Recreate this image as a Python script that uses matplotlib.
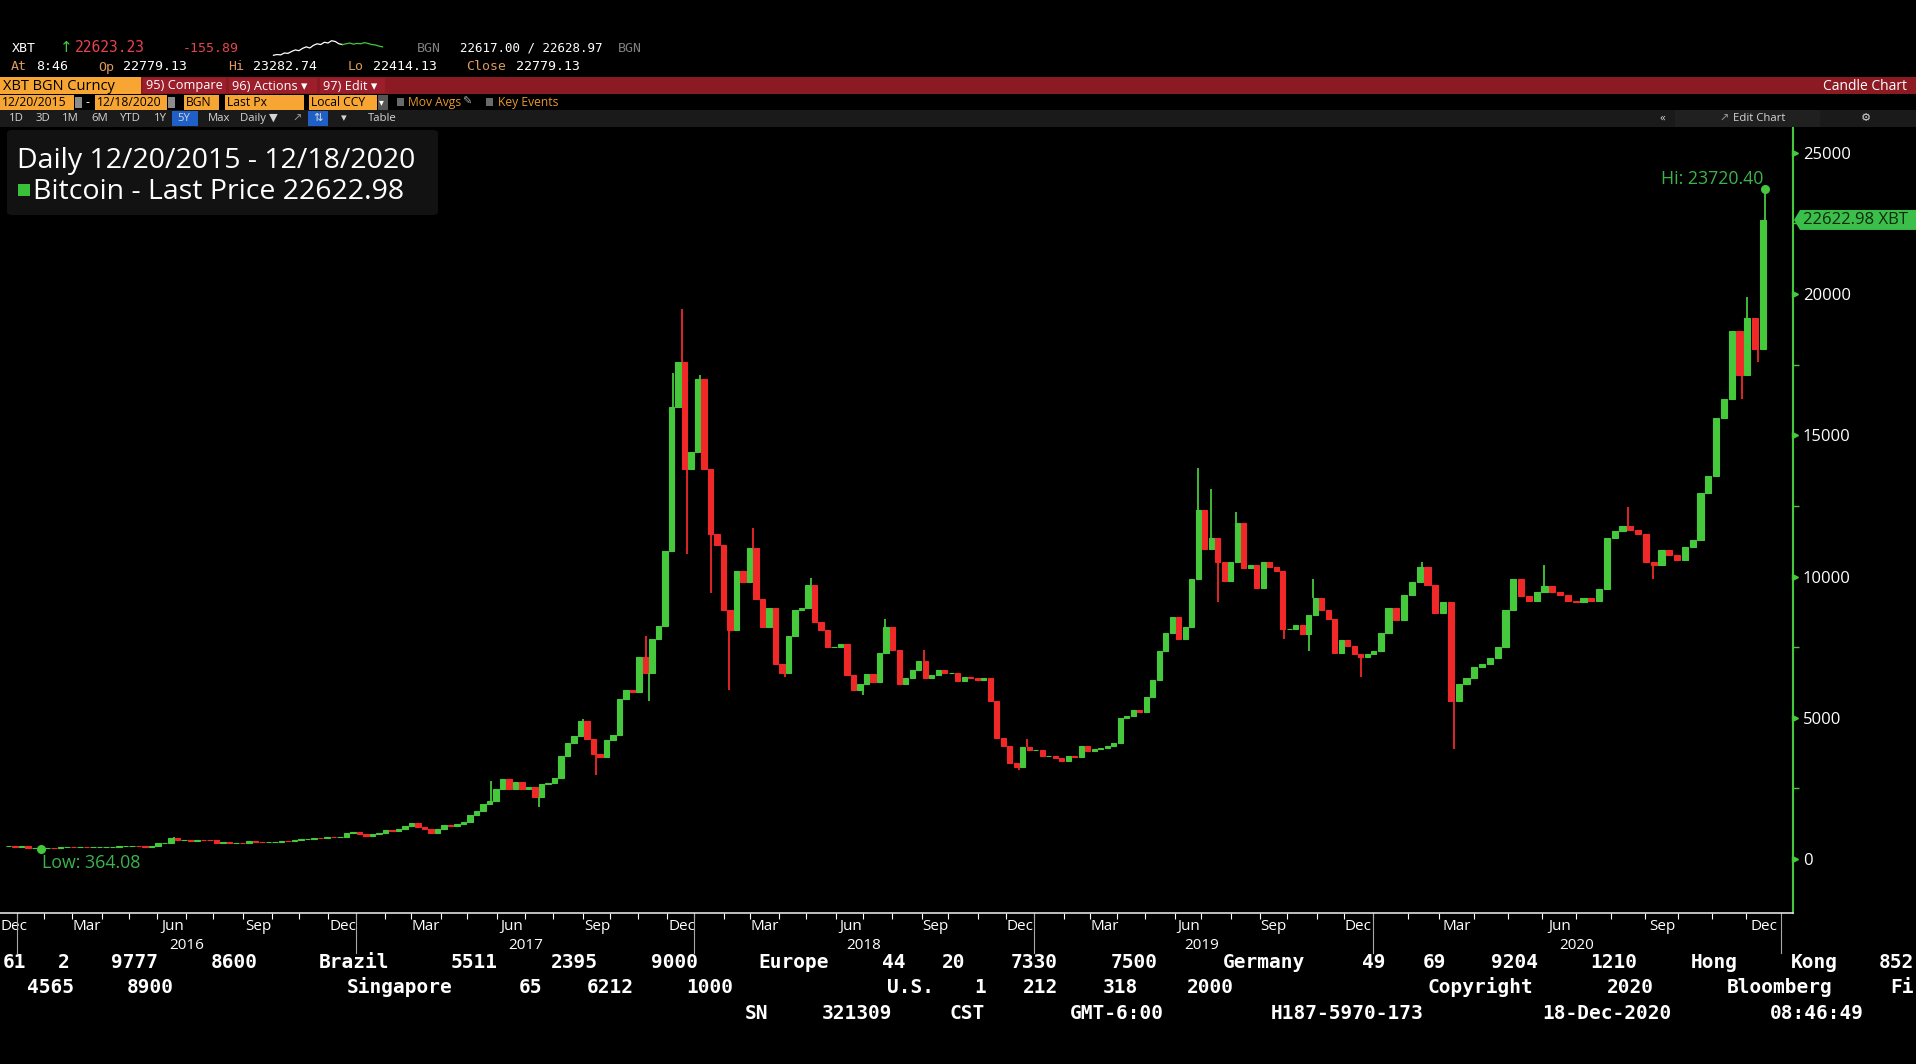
import re
import numpy as np
import pandas as pd
import matplotlib
matplotlib.use("Agg")
import matplotlib.pyplot as plt
from matplotlib.patches import Rectangle, FancyBboxPatch, Polygon
from matplotlib.transforms import IdentityTransform

# ---------------- data: XBT BGN Curncy, weekly closes (week ending Friday) ----------------
week_first = "2015-12-25"
week_last = "2020-12-18"
first_open = 445.0

close_2015 = [455]
close_2016 = [432, 452, 375, 383, 379,
              386, 382, 421, 431,
              410, 417, 408, 416,
              417, 421, 429, 449, 455,
              461, 455, 442, 473,
              569, 577, 757, 665,
              676, 640, 666, 665, 655,
              575, 587, 575, 577,
              575, 623, 607, 596, 608,
              612, 638, 631, 689,
              704, 715, 750, 741,
              771, 770, 784, 917, 963]
close_2017 = [896, 822, 892, 918,
              1015, 998, 1054, 1175,
              1283, 1115, 1070, 934, 1078,
              1190, 1180, 1240, 1327,
              1550, 1700, 1960, 2050,
              2480, 2820, 2460, 2710, 2480,
              2560, 2200, 2670, 2700,
              2850, 3650, 4100, 4350,
              4900, 4250, 3700, 3620, 4200,
              4400, 5650, 5990, 5900,
              7150, 6600, 7800, 8250,
              10900, 16000, 17600, 13800, 14400]
close_2018 = [17000, 13800, 11500, 11100,
              8800, 8100, 10200, 9800,
              11000, 9200, 8200, 8900, 6900,
              6600, 7900, 8800, 8900,
              9700, 8400, 8100, 7500,
              7500, 7600, 6500, 6000, 6200,
              6550, 6250, 7300, 8200,
              7400, 6200, 6400, 6700, 7000,
              6400, 6500, 6700, 6600,
              6600, 6300, 6450, 6400,
              6350, 6400, 5600, 4300, 4000,
              3400, 3250, 3950, 3850]
close_2019 = [3850, 3650, 3650, 3570,
              3480, 3660, 3600, 3990,
              3820, 3880, 3930, 4000, 4100,
              5000, 5050, 5280, 5200,
              5750, 6350, 7350, 7990, 8550,
              7800, 8200, 9900, 12350,
              10980, 11350, 10500, 9850,
              10500, 11900, 10300, 10400, 9600,
              10500, 10350, 10200, 8150,
              8150, 8300, 7950, 8650,
              9250, 8800, 8500, 7300, 7750,
              7550, 7250, 7150, 7250]
close_2020 = [7350, 8000, 8900, 8450, 9350,
              9800, 10350, 9700, 8700,
              9100, 5600, 6200, 6400,
              6800, 6900, 7100, 7500,
              8800, 9900, 9300, 9150, 9450,
              9650, 9450, 9350, 9150,
              9100, 9250, 9150, 9550, 11350,
              11600, 11800, 11650, 11500,
              10500, 10400, 10950, 10750,
              10600, 11050, 11300, 12950, 13550,
              15600, 16300, 18700, 17150,
              19150, 18050, 22623]

# intraweek extremes that stick out of the weekly bodies
wick_dates = ["2016-06-17", "2017-05-25", "2017-07-17", "2017-09-01", "2017-09-15",
              "2017-11-08", "2017-11-13", "2017-12-07", "2017-12-18", "2017-12-22",
              "2018-01-05", "2018-01-17", "2018-02-06", "2018-03-05", "2018-04-06",
              "2018-05-04", "2018-06-29", "2018-07-24", "2018-09-04", "2018-12-14",
              "2018-12-24", "2019-06-26", "2019-07-10", "2019-07-17", "2019-08-06",
              "2019-09-26", "2019-10-23", "2019-10-28", "2019-12-18", "2020-02-13",
              "2020-03-13", "2020-06-02", "2020-08-17", "2020-09-08", "2020-11-26",
              "2020-12-01", "2020-12-11"]
wick_prices = [775, 2760, 1850, 4950, 2980,
               7880, 5600, 17200, 19480, 10800,
               17150, 9400, 6000, 11700, 6450,
               9950, 5800, 8480, 7400, 3150,
               4250, 13850, 13100, 9100, 12300,
               7800, 7350, 9900, 6450, 10500,
               3900, 10400, 12450, 9900, 16300,
               19900, 17600]

low_date, low_price = "2016-01-27", 364.08
hi_date, hi_price = "2020-12-17", 23720.40
last_price = 22622.98

y_ticks = [0, 5000, 10000, 15000, 20000, 25000]
y_minor = [2500, 7500, 12500, 17500, 22500]
years = [2016, 2017, 2018, 2019, 2020]

# intraday sparkline in the header
spark_white = [22420, 22440, 22430, 22480, 22470, 22520, 22560, 22540, 22600, 22640,
               22610, 22680, 22720, 22700, 22760, 22740, 22800, 22780, 22720, 22700]
spark_green = [22700, 22720, 22740, 22710, 22730, 22720, 22750, 22730, 22700, 22690,
               22660, 22640]

# ---------------- style ----------------
GREEN = "#45c83c"
RED = "#f02828"
TXT_GREEN = "#3db44a"
ORANGE = "#f7a533"
LBL_ORANGE = "#dc9a5c"
MONO = "DejaVu Sans Mono"
plt.rcParams["font.family"] = ["Open Sans", "DejaVu Sans"]

W, H = 1916, 1064
fig = plt.figure(figsize=(W / 100, H / 100), dpi=100, facecolor="black")


def fx(px):
    return px / W


def fy(py):
    return 1 - py / H


def rect(x0, y0, x1, y1, color):
    fig.add_artist(Rectangle((fx(x0), fy(y1)), (x1 - x0) / W, (y1 - y0) / H,
                             transform=fig.transFigure, facecolor=color, edgecolor="none"))


def label(px, py, s, color="white", size=9, **kw):
    kw.setdefault("va", "center")
    fig.text(fx(px), fy(py), s, color=color, fontsize=size, **kw)


# Bloomberg bar calendar: weekdays only until 2020, then six bars per week
START = np.datetime64("2015-12-21")
SWITCH = np.datetime64("2020-01-01")


def bar_pos(dates):
    d = np.asarray(dates, dtype="datetime64[D]")
    before = np.busday_count(START, np.minimum(d, SWITCH))
    after = np.busday_count(SWITCH, np.maximum(d, SWITCH), weekmask="1111101")
    return before + after


# ---------------- header ----------------
label(12, 48, "XBT", family=MONO, size=9.5)
label(60, 48, "\u2191", color=GREEN, size=11, family="DejaVu Sans")
label(75, 48, "22623.23", color="#e8434f", size=10.5, family=MONO)
label(183, 48, "-155.89", color="#e8434f", size=9.5, family=MONO)
label(417, 48, "BGN", color="#7f7f7f", size=9.5, family=MONO)
label(460, 48, "22617.00 / 22628.97", size=9, family=MONO)
label(618, 48, "BGN", color="#7f7f7f", size=9.5, family=MONO)

axs = fig.add_axes([fx(268), fy(56), (388 - 268) / W, 16 / H])
axs.axis("off")
nw = len(spark_white)
axs.plot(np.arange(nw), spark_white, color="white", lw=0.9)
axs.plot(np.arange(nw - 1, nw - 1 + len(spark_green)), spark_green, color=GREEN, lw=0.9)

for px, s, c in [(11, "At", LBL_ORANGE), (36, "8:46", "white"), (98, "Op", LBL_ORANGE),
                 (123, "22779.13", "white"), (228, "Hi", LBL_ORANGE), (253, "23282.74", "white"),
                 (348, "Lo", LBL_ORANGE), (373, "22414.13", "white"), (466, "Close", LBL_ORANGE),
                 (516, "22779.13", "white")]:
    label(px, 67, s, color=c, size=9.5, family=MONO)

# red menu bar
rect(0, 77, W, 94, "#8b1a23")
rect(0, 77, 141, 94, ORANGE)
label(3, 86, "XBT BGN Curncy", color="black", size=10.5)
for x0, x1, s in [(143, 226, "95) Compare"), (229, 317, "96) Actions \u25be"), (320, 385, "97) Edit \u25be")]:
    rect(x0, 78, x1, 93, "#9c1e2a")
    label(x0 + 3, 86, s, size=9.2)
label(1907, 86, "Candle Chart", size=10, ha="right")

# settings row
for x0, x1, s in [(0, 74, "12/20/2015"), (95, 167, "12/18/2020"), (184, 219, "BGN"),
                  (225, 304, "Last Px"), (309, 377, "Local CCY")]:
    rect(x0, 95, x1, 110, ORANGE)
    label(x0 + 2, 102.5, s, color="black", size=8.7)
rect(75, 97, 82, 108, "#8c8c8c")
rect(168, 97, 175, 108, "#8c8c8c")
label(86, 102.5, "-", size=9)
rect(378, 95, 388, 110, "#555555")
label(379, 102.5, "\u25be", size=7)
rect(397, 98, 404, 106, "#6a6a6a")
label(408, 102.5, "Mov Avgs", color="#e8962e", size=8.7)
label(462, 102.5, "\u270e", color="#aaaaaa", size=8)
rect(486, 98, 493, 106, "#6a6a6a")
label(498, 102.5, "Key Events", color="#e8962e", size=8.7)

# range toolbar
rect(0, 110, W, 127, "#1a1a1a")
rect(1675, 110, 1820, 127, "#202020")
rect(172, 111, 198, 126, "#1f5fc8")
rect(308, 111, 328, 126, "#1f5fc8")
for px, s in [(9, "1D"), (36, "3D"), (62, "1M"), (91, "6M"), (120, "YTD"), (154, "1Y"),
              (177, "5Y"), (208, "Max"), (240, "Daily \u25bc"), (313, "\u21c5"), (341, "\u25be"),
              (368, "Table"), (1660, "\u00ab"), (1733, "Edit Chart"), (1861, "\u2699")]:
    label(px, 118.5, s, color="#d4d4d4", size=8.2)
label(292, 118.5, "\u2197", color="#9a9a9a", size=8, family="DejaVu Sans")
label(1719, 118.5, "\u2197", color="#9a9a9a", size=8, family="DejaVu Sans")

# ---------------- candle chart ----------------
ax = fig.add_axes([0, fy(913), fx(1793), (913 - 127) / H])
ax.set_facecolor("black")

dates = pd.date_range(week_first, week_last, freq="W-FRI").values.astype("datetime64[D]")
closes = np.array(close_2015 + close_2016 + close_2017 + close_2018 + close_2019 + close_2020,
                  dtype=float)
opens = np.r_[first_open, closes[:-1]]
fri_b = bar_pos(dates)
prev_b = bar_pos(dates - np.timedelta64(7, "D"))
centers = (prev_b + 1 + fri_b) / 2
widths = (fri_b - prev_b) * 0.8
colors = np.where(closes >= opens, GREEN, RED)

ax.bar(centers, closes - opens, bottom=opens, width=widths, color=colors,
       edgecolor=colors, linewidth=0.8)

wd = np.array(wick_dates + [low_date, hi_date], dtype="datetime64[D]")
wp = np.array(wick_prices + [low_price, hi_price], dtype=float)
wi = np.searchsorted(dates, wd)
body_hi = np.maximum(opens[wi], closes[wi])
body_lo = np.minimum(opens[wi], closes[wi])
base = np.where(wp > body_hi, body_hi, body_lo)
ax.vlines(bar_pos(wd), np.minimum(base, wp), np.maximum(base, wp), colors=colors[wi], lw=1.3)

# high / low markers
hx, lx = bar_pos(hi_date), bar_pos(low_date)
ax.plot([hx], [hi_price], "o", color=GREEN, ms=5.5)
ax.plot([lx], [low_price], "o", color=GREEN, ms=5.5)
ax.annotate(f"Hi: {hi_price:.2f}", (hx, hi_price), xytext=(-2, 5), textcoords="offset pixels",
            ha="right", va="baseline", color=TXT_GREEN, fontsize=12.8)
ax.annotate(f"Low: {low_price:.2f}", (lx, low_price), xytext=(1, -19), textcoords="offset pixels",
            ha="left", va="baseline", color=TXT_GREEN, fontsize=12.8)

# y axis on the right
ax.yaxis.tick_right()
ax.set_yticks(y_ticks)
ax.set_yticklabels([str(v) for v in y_ticks])
ax.set_yticks(y_minor, minor=True)
ax.tick_params(axis="y", which="major", length=0, pad=7, labelcolor="white", labelsize=12)
ax.tick_params(axis="y", which="minor", length=4, width=1, color=GREEN)

# x axis: quarter month labels, month ticks, year rows
months = pd.date_range("2015-12-01", "2020-12-01", freq="MS")
qm = months[months.month.isin([3, 6, 9, 12])]
q_pos = bar_pos((qm + pd.Timedelta(days=15)).values.astype("datetime64[D]")).astype(float)
q_pos[0] = -4.0
ax.set_xticks(q_pos)
ax.set_xticklabels([m.strftime("%b") for m in qm])
ax.get_xticklabels()[0].set_ha("left")
ax.set_xticks(bar_pos(months[1:].values.astype("datetime64[D]")) - 0.5, minor=True)
ax.tick_params(axis="x", which="major", length=0, pad=4, labelcolor="white", labelsize=11)
ax.tick_params(axis="x", which="minor", length=4, width=0.8, color="white")

# limits last, so tick setting cannot widen them
ax.set_xlim(-4.6, 1374.6)
ax.set_ylim(-1912, 25913)

ax.plot(np.full(len(y_ticks), 1.0012), y_ticks, ls="none", marker=">", ms=4.5, color=GREEN,
        transform=ax.get_yaxis_transform(), clip_on=False)

xt = ax.get_xaxis_transform()
for y in years + [2021]:
    sx = bar_pos(f"{y}-01-01") - 0.5
    ax.plot([sx, sx], [0, -0.051], color="#a8a8a8", lw=0.8, transform=xt, clip_on=False)
for y in years:
    ax.text(bar_pos(f"{y}-07-01"), -0.041, str(y), transform=xt, ha="center", va="center",
            color="white", fontsize=11)
ax.set_xlim(-4.6, 1374.6)

for side in ("left", "top"):
    ax.spines[side].set_visible(False)
ax.spines["bottom"].set_color("#e0e0e0")
ax.spines["bottom"].set_linewidth(1.2)
ax.spines["right"].set_color(GREEN)
ax.spines["right"].set_linewidth(1.5)

# last price tag
ty = ax.transData.transform((0, last_price))[1]
fig.add_artist(Polygon([(1794, ty), (1800, ty + 10), (W, ty + 10), (W, ty - 10), (1800, ty - 10)],
                       closed=True, facecolor="#3cbf4a", edgecolor="none", transform=IdentityTransform()))
fig.text(1803, ty, f"{last_price:.2f} XBT", transform=IdentityTransform(), va="center",
         color="#0b2a0b", fontsize=12)

# legend box
fig.add_artist(FancyBboxPatch((fx(7), fy(215)), (438 - 7) / W, (215 - 130) / H,
                              boxstyle="round,pad=0,rounding_size=0.003",
                              transform=fig.transFigure, facecolor="#121212", edgecolor="none"))
label(17, 168, "Daily 12/20/2015 - 12/18/2020", size=20.5, va="baseline")
rect(18, 184, 30, 196, "#3ac13a")
label(33, 199, f"Bitcoin - Last Price {last_price:.2f}", size=20.5, va="baseline")

# ---------------- terminal footer ----------------
FOOT_SIZE = 14
char_w = 0.602 * FOOT_SIZE * 100 / 72
footer_rows = [
    (-6, 968, "61 2 9777 8600 Brazil 5511 2395 9000 Europe 44 20 7330 7500 Germany 49 69 9204 1210 Hong Kong 852"),
    (10, 993, "4565 8900      Singapore 65 6212 1000      U.S. 1 212 318 2000       Copyright 2020 Bloomberg Fi"),
    (737, 1019, "SN 321309 CST  GMT-6:00 H187-5970-173 18-Dec-2020 08:46:49"),
]
for x0, base_y, line in footer_rows:
    for m in re.finditer(r"\S+", line):
        half = len(m.group()) * char_w / 2
        cx = x0 + (m.start() + len(m.group()) / 2) * 20
        cx = min(max(cx, half + 1), W - 2 - half)
        fig.text(fx(cx), fy(base_y), m.group(), family=MONO, weight="bold", fontsize=FOOT_SIZE,
                 color="white", ha="center", va="baseline")

fig.savefig("out.png", dpi=100, facecolor="black")
